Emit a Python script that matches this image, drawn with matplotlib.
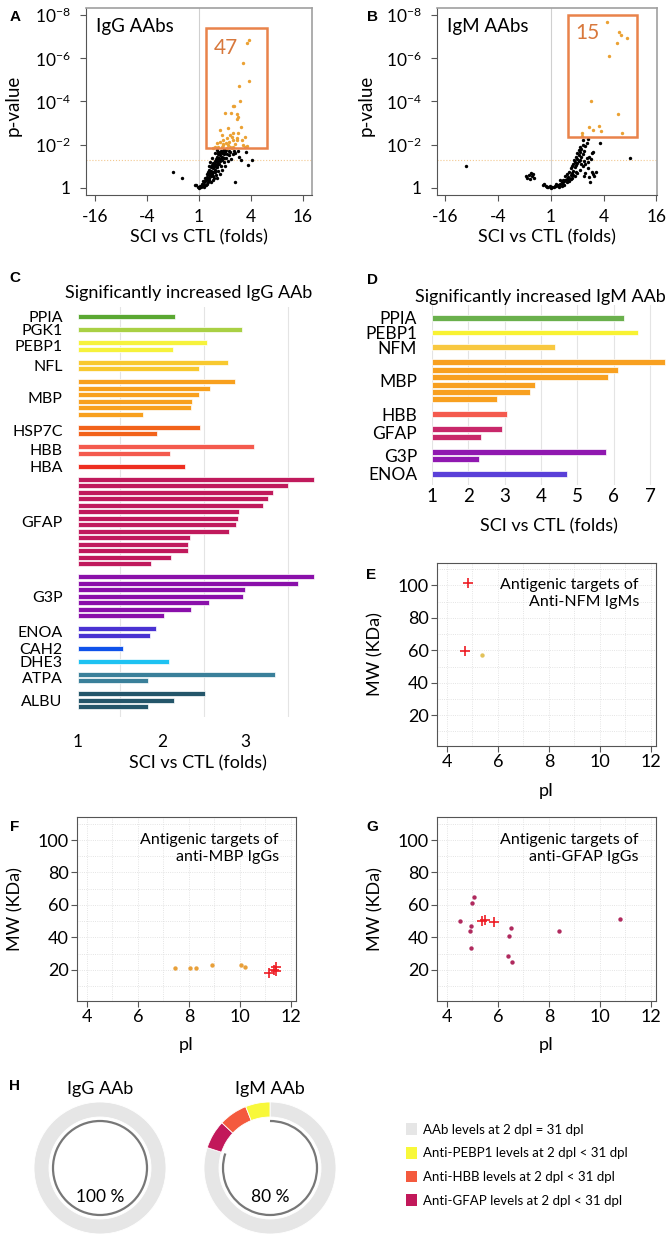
import numpy as np
import matplotlib
matplotlib.use('Agg')
import matplotlib.pyplot as plt
from matplotlib.patches import Rectangle, Arc, Patch

plt.rcParams['font.family'] = ['Lato', 'DejaVu Sans']
plt.rcParams['mathtext.default'] = 'regular'

# ---------------- data ----------------
# panel A: IgG volcano (log2 fold, -log10 p)
igg_hits = [(1.94, 6.87), (1.86, 6.72), (1.71, 5.79), (1.94, 4.94), (1.55, 4.71), (1.58, 4.03),
            (1.29, 3.81), (1.35, 3.81), (1.47, 3.44), (1.01, 3.47), (1.22, 3.47), (1.51, 3.26),
            (1.45, 3.17), (1.60, 2.83), (0.81, 2.67), (1.10, 2.75), (1.32, 2.52), (1.51, 2.52),
            (1.77, 2.36), (0.87, 2.44), (1.19, 2.44), (1.26, 2.36), (1.06, 2.29), (0.94, 2.21),
            (0.81, 2.13), (0.68, 2.08), (1.29, 2.24), (1.47, 2.21), (1.17, 2.13), (1.04, 2.08),
            (0.91, 2.05), (1.71, 1.98), (1.83, 1.93), (0.62, 1.90), (0.74, 1.90), (0.87, 1.87),
            (1.19, 1.90), (1.32, 1.90), (1.78, 1.90), (0.55, 1.84), (1.06, 1.84), (1.26, 1.84),
            (1.45, 2.33), (1.64, 2.21), (0.94, 1.98), (1.38, 2.05), (1.13, 1.98)]
igg_ns = [(-0.05, 0.05), (0.0, 0.0), (0.05, 0.08), (-0.1, 0.12), (-0.15, 0.15), (0.1, 0.1),
          (0.12, 0.2), (0.18, 0.15), (0.2, 0.25), (0.25, 0.3), (0.15, 0.32), (0.3, 0.2),
          (0.28, 0.4), (0.35, 0.35), (0.32, 0.5), (0.4, 0.45), (0.22, 0.45), (0.38, 0.6),
          (0.45, 0.55), (0.3, 0.62), (0.42, 0.7), (0.5, 0.65), (0.35, 0.75), (0.48, 0.8),
          (0.55, 0.75), (0.4, 0.85), (0.52, 0.9), (0.6, 0.85), (0.45, 0.95), (0.58, 1.0),
          (0.65, 0.95), (0.5, 1.05), (0.62, 1.1), (0.7, 1.05), (0.55, 1.15), (0.68, 1.2),
          (0.75, 1.15), (0.6, 1.25), (0.72, 1.3), (0.8, 1.25), (0.65, 1.35), (0.78, 1.4),
          (0.85, 1.35), (0.7, 1.45), (0.82, 1.5), (0.9, 1.45), (0.75, 1.55), (0.88, 1.6),
          (0.95, 1.55), (0.8, 1.65), (0.92, 1.7), (1.0, 1.65), (0.85, 1.72), (1.05, 1.75),
          (0.7, 1.75), (0.6, 1.6), (0.5, 1.4), (0.42, 1.2), (0.38, 1.0), (0.65, 0.6),
          (0.75, 0.8), (0.85, 1.0), (0.95, 1.2), (1.05, 1.4), (1.15, 1.5), (1.2, 1.65),
          (1.1, 1.25), (1.0, 1.0), (0.9, 0.85), (0.8, 0.65), (0.7, 0.45), (0.55, 0.35),
          (0.45, 0.25), (1.25, 1.35), (1.3, 1.55), (1.35, 1.7), (1.4, 1.6), (1.15, 1.7),
          (0.98, 1.8), (0.75, 1.68), (0.55, 0.55), (0.62, 0.72), (0.48, 0.62), (0.58, 0.48),
          (0.68, 0.95), (0.78, 1.1), (0.88, 1.3), (0.95, 1.4), (1.08, 1.58), (0.36, 0.28),
          (0.26, 0.12), (0.08, 0.02), (0.18, 0.05), (0.4, 0.38),
          (-1.0, 0.75), (-0.65, 0.47), (1.37, 0.28), (1.9, 1.05), (2.05, 1.28), (1.8, 1.67),
          (1.49, 1.70), (1.6, 1.3), (1.55, 1.45)]

# panel B: IgM volcano
igm_hits = [(2.11, 7.69), (2.59, 7.23), (2.64, 7.07), (2.87, 6.93), (2.50, 6.72), (2.21, 6.10),
            (1.51, 4.02), (2.53, 3.41), (1.45, 2.83), (1.59, 2.70), (1.84, 2.86), (1.91, 2.63),
            (2.71, 2.52), (1.19, 2.52), (1.17, 2.42)]
igm_ns = [(-0.93, 0.55), (-0.85, 0.6), (-0.75, 0.7), (-0.7, 0.55), (-0.65, 0.45), (-0.8, 0.4),
          (-0.68, 0.62), (-0.9, 0.45), (-0.25, 0.2), (-0.3, 0.15), (-0.2, 0.1), (-0.15, 0.05),
          (-0.1, 0.02), (0.0, 0.0), (0.05, 0.02), (0.1, 0.05), (0.15, 0.08), (0.2, 0.1),
          (0.25, 0.15), (0.3, 0.12), (0.35, 0.2), (0.4, 0.25), (0.45, 0.2), (0.5, 0.3),
          (0.55, 0.35), (0.6, 0.4), (0.45, 0.35), (0.65, 0.5), (0.7, 0.45), (0.55, 0.55),
          (0.75, 0.6), (0.62, 0.65), (0.8, 0.7), (0.7, 0.75), (0.85, 0.8), (0.75, 0.9),
          (0.9, 0.95), (0.8, 1.0), (0.95, 1.05), (0.85, 1.1), (1.0, 1.15), (0.9, 1.2),
          (1.05, 1.25), (0.88, 1.3), (1.0, 1.35), (1.1, 1.3), (0.95, 1.45), (1.05, 1.5),
          (1.15, 1.45), (1.0, 1.6), (1.1, 1.65), (1.2, 1.55), (1.05, 1.75), (1.15, 1.8),
          (1.25, 1.7), (1.1, 1.9), (1.2, 2.0), (1.3, 1.95), (1.35, 2.1), (1.22, 2.2),
          (1.4, 2.25), (0.6, 0.25), (0.7, 0.3), (0.8, 0.45), (0.9, 0.55), (1.0, 0.7),
          (1.1, 0.85), (1.2, 1.0), (1.3, 1.1), (1.4, 1.2), (1.5, 1.35), (1.45, 0.5),
          (1.6, 0.65), (1.55, 0.75), (1.3, 0.7), (1.25, 0.55), (1.7, 0.75), (1.65, 0.55),
          (1.4, 0.9), (1.55, 1.6), (1.45, 1.45), (0.3, 0.05), (0.2, 0.2), (0.4, 0.1),
          (0.5, 0.15), (-0.05, 0.08), (0.35, 0.38), (0.65, 0.3), (0.85, 0.6), (0.75, 0.4),
          (0.95, 0.75), (1.15, 1.1), (1.25, 1.25), (1.35, 1.4),
          (-3.21, 1.02), (3.01, 1.39), (1.87, 2.08), (1.49, 0.28), (1.6, 1.65)]

# panel C: significantly increased IgG AAb (folds)
igg_groups = ['PPIA', 'PGK1', 'PEBP1', 'NFL', 'MBP', 'HSP7C', 'HBB', 'HBA', 'GFAP', 'G3P',
              'ENOA', 'CAH2', 'DHE3', 'ATPA', 'ALBU']
igg_folds = [[2.16], [2.95], [2.54, 2.13], [2.79, 2.44],
             [2.87, 2.58, 2.44, 2.36, 2.35, 1.78], [2.46, 1.94], [3.10, 2.10], [2.27],
             [3.81, 3.50, 3.32, 3.27, 3.21, 2.92, 2.91, 2.89, 2.80, 2.33, 2.31, 2.31, 2.11, 1.87],
             [3.81, 3.62, 2.99, 2.97, 2.56, 2.35, 2.02], [1.93, 1.86], [1.54], [2.08],
             [3.35, 1.84], [2.51, 2.14, 1.84]]
igg_colors = ['#5aa832', '#a9d044', '#f6f23c', '#f8c930', '#f8a01e', '#f2621a', '#f45a4e',
              '#ee2e20', '#c01a5c', '#8a10aa', '#4a32d2', '#0f52ea', '#1ec2f2', '#3a809a', '#24566a']

# panel D: significantly increased IgM AAb (folds)
igm_groups = ['PPIA', 'PEBP1', 'NFM', 'MBP', 'HBB', 'GFAP', 'G3P', 'ENOA']
igm_folds = [[6.29], [6.66], [4.39], [7.41, 6.13, 5.84, 3.84, 3.70, 2.80], [3.06],
             [2.92, 2.36], [5.79, 2.31], [4.73]]
igm_colors = ['#6ab04c', '#f8f232', '#f8c840', '#f8a020', '#f45a4e', '#c8286a', '#9018b0', '#5a40d8']

# panels E-G: pI / MW of antigenic targets
nfm_spot_pi, nfm_spot_mw = [5.38], [57.1]
nfm_cross_pi, nfm_cross_mw = [4.85, 4.72], [101.7, 59.6]
mbp_spot_pi = [7.45, 8.05, 8.3, 8.9, 10.05, 10.2]
mbp_spot_mw = [21.0, 21.0, 21.0, 23.0, 23.0, 21.5]
mbp_cross_pi = [11.15, 11.35, 11.4, 11.42]
mbp_cross_mw = [18.0, 20.0, 22.0, 19.5]
gfap_spot_pi = [4.53, 5.08, 5.0, 4.94, 4.90, 4.97, 6.52, 6.43, 6.42, 6.55, 8.39, 10.78]
gfap_spot_mw = [50.2, 65.1, 61.2, 47.1, 44.2, 33.4, 46.0, 41.1, 28.2, 24.5, 44.2, 51.2]
gfap_cross_pi = [5.4, 5.5, 5.85]
gfap_cross_mw = [50.0, 50.5, 49.5]

# panel H: AAb levels 2 dpl vs 31 dpl (% of AAbs)
ring_labels = ['AAb levels at 2 dpl = 31 dpl', 'Anti-PEBP1 levels at 2 dpl < 31 dpl',
               'Anti-HBB levels at 2 dpl < 31 dpl', 'Anti-GFAP levels at 2 dpl < 31 dpl']
ring_colors = ['#e6e6e6', '#f8f83a', '#f45a3e', '#c2185a']
igg_ring = [100, 0, 0, 0]
igm_ring = [80, 6, 7, 7]

# ---------------- layout helpers (pixel boxes) ----------------
W, H = 670, 1240
fig = plt.figure(figsize=(W / 100, H / 100), dpi=100)


def box(l, t, r, b):
    return [l / W, 1 - b / H, (r - l) / W, (b - t) / H]


def fxy(x, y):
    return x / W, 1 - y / H


def letter(x, y, s):
    fig.text(*fxy(x, y), s, family='Liberation Sans', weight='bold', fontsize=11,
             ha='center', va='center')


def volcano(rect, ns, hits, xlim, hitbox, n_hits, n_xy, title):
    ax = fig.add_axes(rect)
    ns = np.array(ns).T
    hits = np.array(hits).T
    ax.axvline(0, color='#d0d0d0', lw=0.8, zorder=0)
    ax.axhline(1.3, color='#f2c890', lw=0.8, ls=':', zorder=0)
    ax.scatter(ns[0], ns[1], s=6, color='black', linewidths=0, zorder=3)
    ax.scatter(hits[0], hits[1], s=6, color='#eba133', linewidths=0, zorder=3)
    x0, y0, x1, y1 = hitbox
    ax.add_patch(Rectangle((x0, y0), x1 - x0, y1 - y0, fill=False, ec='#e9834a', lw=1.8, zorder=4))
    ax.text(n_xy[0], n_xy[1], str(n_hits), color='#d8783c', fontsize=15, va='center', ha='left')
    ax.text(0.045, 0.9, title, transform=ax.transAxes, fontsize=13.5, va='center')
    ax.set_xlim(*xlim)
    ax.set_ylim(-0.33, 8.33)
    ax.set_xticks([-4, -2, 0, 2, 4], ['-16', '-4', '1', '4', '16'])
    ax.set_yticks([0, 2, 4, 6, 8], ['1', '$10^{-2}$', '$10^{-4}$', '$10^{-6}$', '$10^{-8}$'])
    ax.tick_params(axis='both', labelsize=12.5, length=4, color='#555555')
    ax.tick_params(axis='y', pad=7)
    ax.tick_params(axis='x', pad=6)
    for s in ['top', 'right']:
        ax.spines[s].set_color('#a0a0a0')
        ax.spines[s].set_linewidth(1.2)
    for s in ['left', 'bottom']:
        ax.spines[s].set_color('#555555')
    ax.set_xlabel('SCI vs CTL (folds)', fontsize=13, labelpad=3)
    ax.set_ylabel('p-value', fontsize=13.5)
    ax.yaxis.set_label_coords(-0.285, 0.48)
    return ax


def bar_panel(rect, groups, folds, colors, xlim, ylim, pad, xticks, grid_minor, label_size):
    ax = fig.add_axes(rect)
    k = 0
    centers = []
    for g, vals, c in zip(groups, folds, colors):
        pos = np.arange(k, k + len(vals))
        ax.barh(pos, np.array(vals) - 1, left=1, height=0.8, color=c,
                edgecolor='white', linewidth=0.5, zorder=3)
        centers.append(pos.mean())
        k += len(vals) + 1
    ax.set_xlim(*xlim)
    ax.set_ylim(*ylim)
    ax.set_yticks(centers, groups)
    ax.set_xticks(xticks)
    if grid_minor is not None:
        ax.set_xticks(grid_minor, minor=True)
        ax.grid(axis='x', which='minor', color='#e4e4e4', lw=0.8, zorder=0)
    else:
        ax.grid(axis='x', which='major', color='#e4e4e4', lw=0.8, zorder=0)
    ax.tick_params(axis='both', which='both', length=0, labelsize=12.5)
    ax.tick_params(axis='y', pad=pad, labelsize=label_size)
    for s in ax.spines.values():
        s.set_visible(False)
    return ax


def pi_panel(rect, spot_pi, spot_mw, spot_color, cross_pi, cross_mw, note):
    ax = fig.add_axes(rect)
    ax.set_xlim(3.63, 12.2)
    ax.set_ylim(1, 114)
    ax.set_xticks([4, 6, 8, 10, 12])
    ax.set_yticks([20, 40, 60, 80, 100])
    ax.set_xticks(np.arange(4, 13), minor=True)
    ax.set_yticks(np.arange(10, 111, 10), minor=True)
    ax.grid(which='both', color='#dcdcdc', lw=0.6, ls=':', zorder=0)
    ax.scatter(spot_pi, spot_mw, s=10, color=spot_color, linewidths=0, zorder=3)
    ax.plot(cross_pi, cross_mw, ls='none', marker='+', ms=7, mew=1.2, color='#ee1c24', zorder=4)
    ax.text(0.922, 0.915, note, transform=ax.transAxes, ha='right', va='top',
            fontsize=11.5, linespacing=1.25)
    ax.tick_params(which='minor', length=0)
    ax.tick_params(which='major', labelsize=13, length=4, color='#555555', pad=2)
    for s in ax.spines.values():
        s.set_color('#555555')
    ax.set_xlabel('pI', fontsize=13)
    ax.xaxis.set_label_coords(0.5, -0.2)
    ax.set_ylabel('MW (KDa)', fontsize=13)
    ax.yaxis.set_label_coords(-0.245, 0.5)
    return ax


def donut(cx, cy, values, title, pct_text):
    R = 66
    ax = fig.add_axes(box(cx - 72, cy - 72, cx + 72, cy + 72))
    order = [0, 3, 2, 1]
    vals = [values[i] for i in order]
    cols = [ring_colors[i] for i in order]
    keep = [j for j, v in enumerate(vals) if v > 0]
    ax.pie([vals[j] for j in keep], colors=[cols[j] for j in keep], radius=R, startangle=90,
           counterclock=False, wedgeprops=dict(width=15, edgecolor='white', linewidth=0.6))
    share = values[0]
    ax.add_patch(Arc((0, 0), 94, 94, theta1=90 - 3.6 * share, theta2=90,
                     color='#777777', lw=1.6))
    ax.set_xlim(-72, 72)
    ax.set_ylim(-72, 72)
    ax.set_aspect('equal')
    ax.axis('off')
    ax.text(0, -29, pct_text, ha='center', va='center', fontsize=12.5)
    fig.text(*fxy(cx, cy - 66 - 13), title, ha='center', va='center', fontsize=13)


# ---------------- A / B ----------------
volcano(box(86, 8, 312, 195), igg_ns, igg_hits, (-4.35, 4.35), (0.27, 1.85, 2.6, 7.4),
        47, (0.55, 6.49), 'IgG AAbs')
volcano(box(437, 8, 657, 195), igm_ns, igm_hits, (-4.32, 4.02), (0.64, 2.36, 3.27, 8.0),
        15, (0.91, 7.15), 'IgM AAbs')
letter(15, 17, 'A')
letter(372, 17, 'B')

# ---------------- C / D ----------------
axc = bar_panel(box(78, 307, 317, 717), igg_groups, igg_folds, igg_colors, (1, 3.85),
                (61.6, -1.5), 11, [1, 2, 3], [1.5, 2, 2.5, 3, 3.5], 11.5)
axc.tick_params(axis='x', pad=12)
axc.set_xlabel('SCI vs CTL (folds)', fontsize=13, labelpad=4)
fig.text(*fxy(189, 293), 'Significantly increased IgG AAb', ha='center', va='center', fontsize=13)
letter(15, 278, 'C')

axd = bar_panel(box(431.7, 305, 666.5, 485), igm_groups, igm_folds, igm_colors, (1, 7.45),
                (22.5, -1.7), 10.5, [1, 2, 3, 4, 5, 6, 7], None, 12.5)
axd.tick_params(axis='x', pad=2, labelsize=13.5)
axd.set_xlabel('SCI vs CTL (folds)', fontsize=13, labelpad=10)
fig.text(*fxy(540, 297), 'Significantly increased IgM AAb', ha='center', va='center', fontsize=13)
letter(372, 280, 'D')

# ---------------- E / F / G ----------------
pi_panel(box(437.3, 562.7, 656, 746), nfm_spot_pi, nfm_spot_mw, '#e2c25a',
         nfm_cross_pi, nfm_cross_mw, 'Antigenic targets of\nAnti-NFM IgMs')
letter(371, 575, 'E')
pi_panel(box(77.3, 817.3, 296, 1000.6), mbp_spot_pi, mbp_spot_mw, '#e8a03a',
         mbp_cross_pi, mbp_cross_mw, 'Antigenic targets of\nanti-MBP IgGs')
letter(15, 827, 'F')
pi_panel(box(437.3, 817.3, 656, 1000.6), gfap_spot_pi, gfap_spot_mw, '#b02a5e',
         gfap_cross_pi, gfap_cross_mw, 'Antigenic targets of\nanti-GFAP IgGs')
letter(372, 827, 'G')

# ---------------- H ----------------
letter(14, 1086, 'H')
donut(100, 1168, igg_ring, 'IgG AAb', '100 %')
donut(270, 1168, igm_ring, 'IgM AAb', '80 %')
handles = [Patch(facecolor=c, edgecolor='none') for c in ring_colors]
fig.legend(handles, ring_labels, loc='center left', bbox_to_anchor=fxy(401, 1165),
           frameon=False, fontsize=9.5, handlelength=0.8, handleheight=1.0,
           handletextpad=0.5, labelspacing=0.85, borderaxespad=0)

fig.savefig('out.png', dpi=100)
